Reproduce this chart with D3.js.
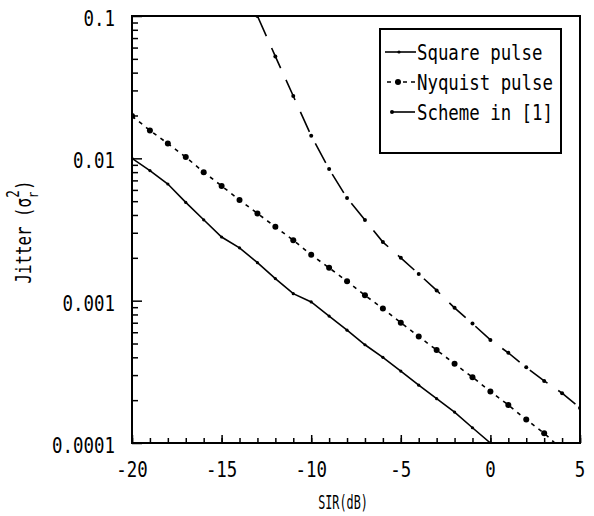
<!DOCTYPE html>
<html>
<head>
<meta charset="utf-8">
<script src="https://cdn.jsdelivr.net/npm/d3@7"></script>
<style>
  body { margin: 0; background: #fff; }
  text { font-family: "DejaVu Sans Mono", monospace; fill: #000; }
</style>
</head>
<body>
<svg id="chart" width="594" height="516"></svg>
<script>
// values
let sirSquare = [-20, -19, -18, -17, -16, -15, -14, -13, -12, -11, -10, -9, -8, -7, -6, -5, -4, -3, -2, -1, 0]
let jitterSquare = [0.0100, 0.0082, 0.0066, 0.0049, 0.0037, 0.0028, 0.00235, 0.00185, 0.00143, 0.00112, 0.00098,
                    0.00078, 0.00062, 0.00049, 0.00040, 0.00032, 0.000255, 0.000205, 0.000165, 0.000128, 0.000100]

let sirNyquist = [-20, -19, -18, -17, -16, -15, -14, -13, -12, -11, -10, -9, -8, -7, -6, -5, -4, -3, -2, -1, 0, 1, 2, 3, 3.6]
let jitterNyquist = [0.0198, 0.0157, 0.0127, 0.0102, 0.0080, 0.0064, 0.0051, 0.0041, 0.0033, 0.00266, 0.0021, 0.0017,
                     0.00137, 0.00109, 0.00088, 0.00070, 0.00056, 0.00045, 0.00036, 0.00029, 0.00023, 0.000185,
                     0.000146, 0.000117, 0.000100]

let sirScheme = [-13, -12, -11, -10, -9, -8, -7, -6, -5, -4, -3, -2, -1, 0, 1, 2, 3, 4, 5]
let jitterScheme = [0.100, 0.052, 0.0274, 0.0144, 0.0084, 0.00526, 0.00369, 0.00258, 0.0020, 0.00154, 0.00118,
                    0.00089, 0.00069, 0.00053, 0.00043, 0.00034, 0.000273, 0.000224, 0.000176]

let seriesNames = ["Square pulse", "Nyquist pulse", "Scheme in [1]"]
let xTickLabels = ["-20", "-15", "-10", "-5", "0", "5"]
let yTickLabels = ["0.0001", "0.001", "0.01", "0.1"]

let svg = d3.select("#chart")
let margin = { top: 16, right: 14, bottom: 73, left: 132 }
let width = 594, height = 516

let x = d3.scaleLinear()
    .domain([-20, 5])
    .range([margin.left, width - margin.right])

let y = d3.scaleLog()
    .domain([0.0001, 0.1])
    .range([height - margin.bottom, margin.top])

// narrow plotter-like lettering: squeeze a mono font horizontally
function label(px, py, str, size, sx, anchor) {
  return svg.append("text")
    .attr("transform", `translate(${px},${py}) scale(${sx},1)`)
    .attr("text-anchor", anchor)
    .style("font-size", size + "px")
    .text(str)
}

svg.append("clipPath").attr("id", "plot-clip")
  .append("rect")
    .attr("x", x(-20)).attr("y", y(0.1))
    .attr("width", x(5) - x(-20)).attr("height", y(0.0001) - y(0.1))

// minor / major ticks, pointing inward
let yMinor = []
d3.range(-4, -1).forEach(function (e) {
  d3.range(2, 10).forEach(function (m) { yMinor.push(m * Math.pow(10, e)) })
})
let yMajor = yTickLabels.map(Number)

svg.append("g")
    .attr("transform", `translate(${x(-20)},0)`)
    .call(d3.axisLeft(y).tickValues(yMinor).tickSize(-6).tickFormat(""))
svg.append("g")
    .attr("transform", `translate(${x(-20)},0)`)
    .call(d3.axisLeft(y).tickValues(yMajor).tickSize(-10).tickFormat(""))

svg.append("g")
    .attr("transform", `translate(0,${y(0.0001)})`)
    .call(d3.axisBottom(x).tickValues(d3.range(-20, 6)).tickSize(-5).tickFormat(""))
svg.append("g")
    .attr("transform", `translate(0,${y(0.0001)})`)
    .call(d3.axisBottom(x).tickValues(xTickLabels.map(Number)).tickSize(-8).tickFormat(""))

svg.selectAll(".domain").remove()
svg.selectAll(".tick line").style("stroke", "#000").style("stroke-width", 1.5)

// frame
svg.append("rect")
    .attr("x", x(-20)).attr("y", y(0.1))
    .attr("width", x(5) - x(-20)).attr("height", y(0.0001) - y(0.1))
    .style("fill", "none")
    .style("stroke", "#000")
    .style("stroke-width", 2)

// tick labels
yTickLabels.forEach(function (t) { label(115, y(+t) + 10, t, 21, 0.83, "end") })
xTickLabels.forEach(function (t) { label(x(+t), 477, t, 21, 0.83, "middle") })

// axis titles
label(343, 509, "SIR(dB)", 19, 0.62, "middle")

let yTitle = svg.append("text")
    .attr("transform", "translate(31,232) rotate(-90) scale(0.75,1)")
    .attr("text-anchor", "middle")
    .style("font-size", "21px")
yTitle.append("tspan").text("Jitter (σ")
yTitle.append("tspan").attr("dy", 7).style("font-size", "14px").text("r")
yTitle.append("tspan").attr("dx", -8).attr("dy", -19).style("font-size", "17px").text("2")
yTitle.append("tspan").attr("dy", 12).text(")")

// curves
let series = [
  { xs: sirSquare, ys: jitterSquare, dash: null, r: 1.6 },
  { xs: sirNyquist, ys: jitterNyquist, dash: "4,5", r: 3 },
  { xs: sirScheme, ys: jitterScheme, dash: "22,13", r: 2 }
]

let line = d3.line()
    .x(function (d) { return x(d[0]) })
    .y(function (d) { return y(d[1]) })

let plot = svg.append("g").attr("clip-path", "url(#plot-clip)")

series.forEach(function (s) {
  let pts = s.xs.map(function (v, i) { return [v, s.ys[i]] })
  plot.append("path")
      .datum(pts)
      .attr("d", line)
      .style("fill", "none")
      .style("stroke", "#000")
      .style("stroke-width", 1.6)
      .style("stroke-dasharray", s.dash)
  plot.append("g")
    .selectAll("circle")
    .data(pts.filter(function (d) { return Number.isInteger(d[0]) }))
    .enter()
    .append("circle")
      .attr("cx", function (d) { return x(d[0]) })
      .attr("cy", function (d) { return y(d[1]) })
      .attr("r", s.r)
      .style("fill", "#000")
})

// legend
let legend = svg.append("g")
legend.append("rect")
    .attr("x", 380).attr("y", 29)
    .attr("width", 181).attr("height", 124)
    .style("fill", "#fff")
    .style("stroke", "#000")
    .style("stroke-width", 2)

let legendRows = [52, 82, 112]
let legendLines = [
  { x1: 385, x2: 416, dash: null, mx: 399, r: 1.6 },
  { x1: 387, x2: 415, dash: "4,4", mx: 398, r: 3 },
  { x1: 391, x2: 415, dash: null, mx: 392, r: 2 }
]
seriesNames.forEach(function (name, i) {
  let ly = legendRows[i], l = legendLines[i]
  legend.append("line")
      .attr("x1", l.x1).attr("x2", l.x2)
      .attr("y1", ly).attr("y2", ly)
      .style("stroke", "#000")
      .style("stroke-width", 1.6)
      .style("stroke-dasharray", l.dash)
  legend.append("circle")
      .attr("cx", l.mx).attr("cy", ly).attr("r", l.r)
      .style("fill", "#000")
  label(417, ly + 8, name, 22, 0.79, "start")
})
</script>
</body>
</html>
